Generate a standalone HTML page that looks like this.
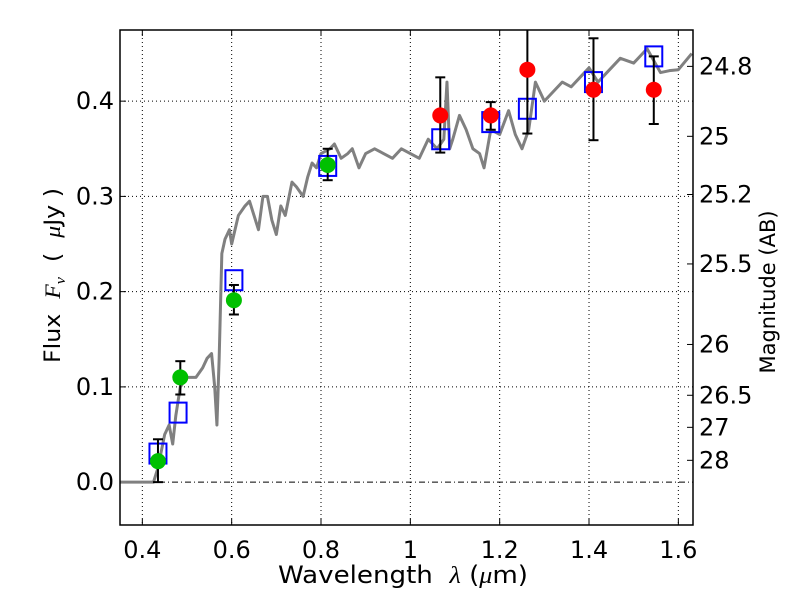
<!DOCTYPE html>
<html><head><meta charset="utf-8"><style>
body{margin:0;background:#fff}
svg text{font-family:"DejaVu Sans","Liberation Sans",sans-serif;font-size:24px;fill:#000}
.m{font-family:"Liberation Serif","DejaVu Serif",serif;font-style:italic}
</style></head><body>
<svg id="c" width="800" height="600" xmlns="http://www.w3.org/2000/svg"></svg>
<script>
const xTicks=[0.4,0.6,0.8,1.0,1.2,1.4,1.6];
const xTickLabels=["0.4","0.6","0.8","1","1.2","1.4","1.6"];
const yTicks=[0.0,0.1,0.2,0.3,0.4];
const yTickLabels=["0.0","0.1","0.2","0.3","0.4"];
const magTicks=[24.8,25,25.2,25.5,26,26.5,27,28];
const magLabels=["24.8","25","25.2","25.5","26","26.5","27","28"];
const specX=[0.35,0.425,0.435,0.45,0.46,0.468,0.475,0.485,0.5,0.52,0.535,0.545,0.555,0.562,0.567,0.572,0.578,0.585,0.595,0.6,0.605,0.615,0.63,0.64,0.65,0.66,0.67,0.68,0.69,0.70,0.71,0.72,0.735,0.745,0.76,0.77,0.78,0.79,0.80,0.82,0.83,0.845,0.86,0.87,0.885,0.9,0.92,0.94,0.96,0.98,1.0,1.02,1.04,1.06,1.075,1.082,1.088,1.095,1.11,1.125,1.14,1.155,1.165,1.18,1.2,1.22,1.235,1.25,1.265,1.28,1.3,1.32,1.34,1.36,1.38,1.4,1.42,1.44,1.47,1.5,1.53,1.56,1.58,1.6,1.63];
const specY=[0,0,0.015,0.05,0.06,0.04,0.07,0.1,0.11,0.11,0.12,0.13,0.135,0.1,0.06,0.13,0.24,0.255,0.265,0.25,0.26,0.28,0.29,0.295,0.28,0.265,0.3,0.3,0.275,0.26,0.29,0.28,0.315,0.31,0.3,0.32,0.335,0.33,0.345,0.35,0.355,0.34,0.345,0.35,0.33,0.345,0.35,0.345,0.34,0.35,0.345,0.34,0.36,0.35,0.36,0.42,0.35,0.36,0.385,0.37,0.35,0.345,0.33,0.37,0.365,0.39,0.365,0.35,0.37,0.42,0.4,0.41,0.42,0.415,0.425,0.435,0.42,0.43,0.445,0.44,0.455,0.43,0.432,0.433,0.45];
const dataX=[0.435,0.485,0.605,0.815,1.067,1.18,1.262,1.41,1.545];
const dataY=[0.022,0.11,0.191,0.333,0.385,0.385,0.433,0.412,0.412];
const errLo=[0.0,0.092,0.176,0.317,0.346,0.37,0.366,0.359,0.376];
const errHi=[0.045,0.127,0.207,0.35,0.425,0.399,0.48,0.466,0.447];
const isGreen=[1,1,1,1,0,0,0,0,0];
const modelX=[0.435,0.48,0.605,0.815,1.068,1.18,1.262,1.41,1.545];
const modelY=[0.03,0.073,0.212,0.332,0.36,0.378,0.392,0.42,0.447];

const L=120,R=693,T=30,B=525,X0=0.35,X1=1.6328,Y0=-0.045,Y1=0.4747;
const sx=v=>L+(v-X0)/(X1-X0)*(R-L);
const sy=v=>B-(v-Y0)/(Y1-Y0)*(B-T);
const svg=document.getElementById('c');
const NS='http://www.w3.org/2000/svg';
function mk(tag,attrs,parent){const e=document.createElementNS(NS,tag);for(const k in attrs)e.setAttribute(k,attrs[k]);(parent||svg).appendChild(e);return e;}

xTicks.forEach((v,i)=>{
 const g=mk('line',{x1:sx(v),x2:sx(v),y1:T,y2:B,stroke:'#000','stroke-width':1,'stroke-dasharray':'1,3'});
 
 
 const t=mk('line',{x1:sx(v),x2:sx(v),y1:B,y2:B-6,stroke:'#000'});
 
 
 mk('line',{x1:sx(v),x2:sx(v),y1:T,y2:T+6,stroke:'#000'});
 const lb=mk('text',{x:sx(v),y:B+33,'text-anchor':'middle','font-size':23});lb.textContent=xTickLabels[i];
 
 
});
yTicks.forEach((v,i)=>{
 const g=mk('line',{x1:L,x2:R,y1:sy(v),y2:sy(v),stroke:'#000','stroke-width':1,'stroke-dasharray':v===0?'6,3,1,3':'1,3'});
 
 
 mk('line',{x1:L,x2:L+6,y1:sy(v),y2:sy(v),stroke:'#000'});
 const lb=mk('text',{x:L-6,y:sy(v)+8,'text-anchor':'end','font-size':23});lb.textContent=yTickLabels[i];
 
 
});
magTicks.forEach((m,i)=>{
 const f=Math.pow(10,(23.9-m)/2.5);
 const t=mk('line',{x1:R,x2:R-6,y1:sy(f),y2:sy(f),stroke:'#000'});
 
 
 const lb=mk('text',{x:R+6,y:sy(f)+8,'font-size':23});lb.textContent=magLabels[i];
 
 
});
const sp=mk('polyline',{points:specX.map((x,i)=>sx(x)+','+sy(specY[i])).join(' '),fill:'none',stroke:'#808080','stroke-width':3,'stroke-linejoin':'round'});


modelX.forEach((x,i)=>{
 const r=mk('rect',{x:sx(x)-8.5,y:sy(modelY[i])-10,width:17,height:20,fill:'none',stroke:'#0000ff','stroke-width':2});
 
 
});
dataX.forEach((x,i)=>{
 const X=sx(x);
 const eb=mk('g',{stroke:'#000','stroke-width':2});
 
 
 const hi=Math.max(sy(errHi[i]),T);
 mk('line',{x1:X,x2:X,y1:hi,y2:sy(errLo[i])},eb);
 if(sy(errHi[i])>=T) mk('line',{x1:X-5,x2:X+5,y1:hi,y2:hi},eb);
 mk('line',{x1:X-5,x2:X+5,y1:sy(errLo[i]),y2:sy(errLo[i])},eb);
 const c=mk('circle',{cx:X,cy:sy(dataY[i]),r:8,fill:isGreen[i]?'#00c000':'#ff0000'});
 
 
});
const fr=mk('rect',{x:L,y:T,width:R-L,height:B-T,fill:'none',stroke:'#000','stroke-width':1.5});


</script>
<svg width="800" height="600" style="position:absolute;left:0;top:0" xmlns="http://www.w3.org/2000/svg">
<text x="278" y="583" textLength="250" lengthAdjust="spacingAndGlyphs" style="font-size:24px">Wavelength&#160;&#160;<tspan class="m">λ</tspan> (<tspan class="m">μ</tspan>m)</text>
<text transform="translate(60,363) rotate(-90)" textLength="175" lengthAdjust="spacingAndGlyphs" style="font-size:22px">Flux&#160;&#160;<tspan class="m">F<tspan font-size="15" dy="5">ν</tspan></tspan><tspan dy="-5">&#160;&#160;(&#160;&#160;</tspan><tspan class="m">μ</tspan>Jy )</text>
<text transform="translate(775,292) rotate(-90)" text-anchor="middle" style="font-size:21px">Magnitude (AB)</text>
</svg>
</body></html>
